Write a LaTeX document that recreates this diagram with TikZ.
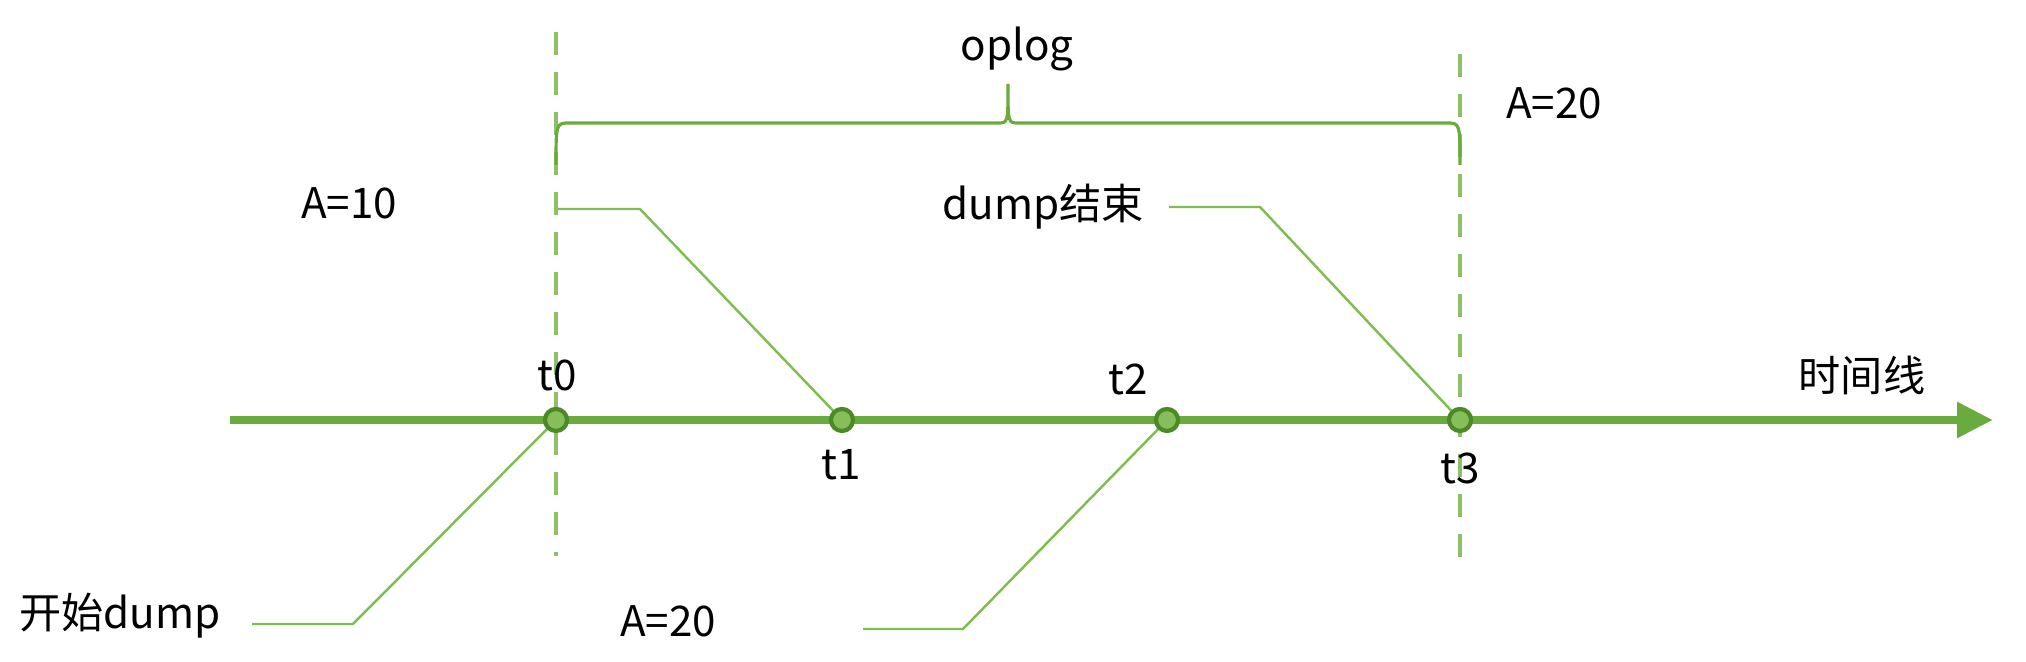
\documentclass[tikz,border=0pt]{standalone}
\usepackage{fontspec}
\setmainfont{Noto Sans CJK SC}
\usepackage{tikz}
\usetikzlibrary{arrows.meta}
\tikzset{>=latex}
\definecolor{linegreen}{HTML}{6AAB3E}
\definecolor{dotgreen}{HTML}{86BE5C}
\definecolor{dotedge}{HTML}{4C8A28}
\definecolor{dashgreen}{HTML}{8DC068}
\definecolor{pointgreen}{HTML}{7DBD52}
\tikzset{
  lbl/.style = {font=\fontsize{12}{14}\selectfont, inner sep=0pt},
  tdot/.style = {circle, fill=dotgreen, draw=dotedge, line width=1.2pt, minimum size=0.22cm, inner sep=0pt},
  guide/.style = {dashgreen, line width=1.4pt, dash pattern=on 0.23cm off 0.17cm},
  pointer/.style = {pointgreen, line width=0.7pt}
}

\begin{document}
\begin{tikzpicture}
\useasboundingbox (0,0) rectangle (20.26,6.62);
% time axis
\coordinate (start) at (2.30,2.42);
\coordinate (end) at (19.93,2.42);
\draw[linegreen, line width=2.4pt, -{Triangle[length=0.36cm, width=0.34cm]}] (start) -- (end);
\node[lbl] (axis) at (18.62,2.87) {时间线};

% dashed guides at t0 and t3
\draw[guide] (5.56,6.30) -- (5.56,1.06);
\draw[guide] (14.60,6.08) -- (14.60,0.93);

% oplog brace
\draw[linegreen, line width=0.9pt] (5.56,4.97) .. controls (5.56,5.39) .. (5.70,5.39) -- (9.98,5.39)
  .. controls (10.08,5.39) .. (10.08,5.78) .. controls (10.08,5.39) .. (10.18,5.39)
  -- (14.46,5.39) .. controls (14.60,5.39) .. (14.60,4.97);
\node[lbl] (oplog) at (10.17,6.13) {oplog};

% texts
\node[lbl] (atop) at (15.54,5.59) {A=20};
\node[lbl] (aten) at (3.49,4.59) {A=10};
\node[lbl] (dumpend) at (10.43,4.55) {dump结束};
\node[lbl] (dumpstart) at (1.20,0.46) {开始dump};
\node[lbl] (abot) at (6.68,0.41) {A=20};

% pointer start points
\coordinate (p1a) at (5.58,4.53);  \coordinate (p1b) at (6.40,4.53);
\coordinate (p2a) at (11.69,4.55); \coordinate (p2b) at (12.60,4.55);
\coordinate (p3a) at (2.52,0.38);  \coordinate (p3b) at (3.53,0.38);
\coordinate (p4a) at (8.63,0.33);  \coordinate (p4b) at (9.63,0.33);

% points on the axis
\coordinate (c0) at (5.56,2.42);
\coordinate (c1) at (8.42,2.42);
\coordinate (c2) at (11.67,2.42);
\coordinate (c3) at (14.60,2.42);

\draw[pointer] (p1a) -- (p1b) -- (c1);
\draw[pointer] (p2a) -- (p2b) -- (c3);
\draw[pointer] (p3a) -- (p3b) -- (c0);
\draw[pointer] (p4a) -- (p4b) -- (c2);

\node[tdot] (t0) at (c0) {};
\node[tdot] (t1) at (c1) {};
\node[tdot] (t2) at (c2) {};
\node[tdot] (t3) at (c3) {};
\node[lbl] (t0l) at (5.57,2.87) {t0};
\node[lbl] (t1l) at (8.41,1.97) {t1};
\node[lbl] (t2l) at (11.28,2.83) {t2};
\node[lbl] (t3l) at (14.60,1.94) {t3};
\end{tikzpicture}
\end{document}
